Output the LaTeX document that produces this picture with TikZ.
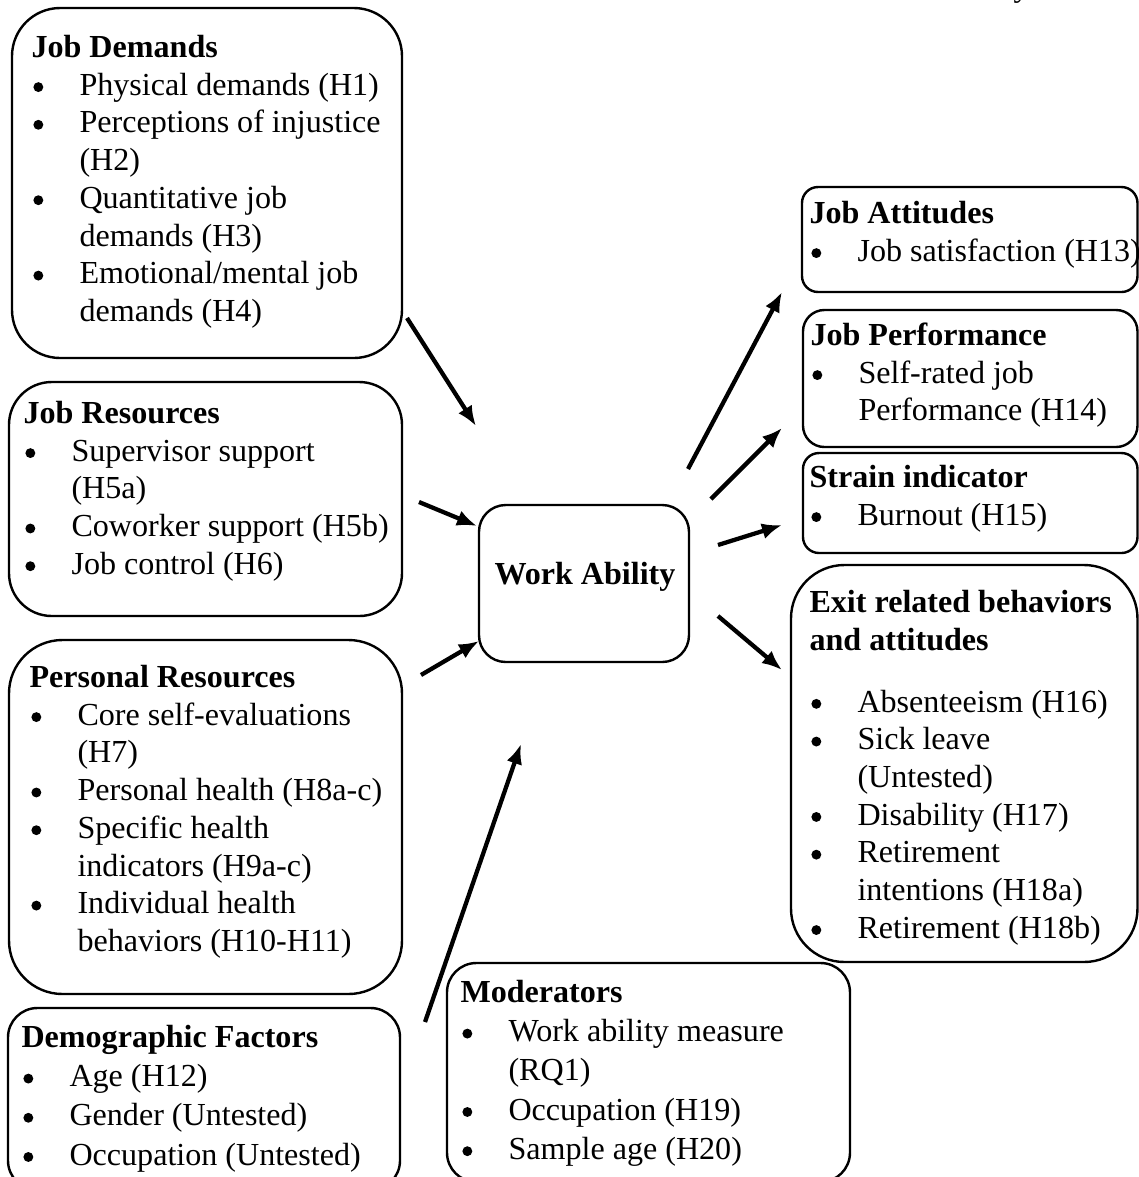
\documentclass[tikz,border=0pt]{standalone}
\usepackage{fontspec}
\setmainfont{Liberation Serif}
\usetikzlibrary{arrows.meta}

\newcommand{\hd}[1]{\rule{0pt}{9pt}\textbf{#1}}
\newcommand{\itm}{\makebox[17.95pt][l]{\hspace{0.7pt}\tikz[baseline=-3.05pt]\fill (0,0) circle (1.85pt);}}
\newcommand{\cont}{\hspace*{17.95pt}}

\begin{document}
\begin{tikzpicture}[x=0.374pt,y=-0.374pt,
  box/.style={draw,line width=0.9pt,rounded corners=#1},
  txt/.style={anchor=north west,yshift=9pt,align=left,inner sep=0pt,font=\fontsize{12}{14.1}\selectfont},
  arr/.style={line width=1.6pt,-{Latex[length=7.5pt,width=6pt]}}]
\useasboundingbox (0,0) rectangle (1139,1177);

% boxes
\draw[box=18pt] (12,8) rectangle (402,358);
\draw[box=16pt] (9,382) rectangle (402,616);
\draw[box=20pt] (9,640) rectangle (402,994);
\draw[box=11pt] (8,1008) rectangle (400,1190);
\draw[box=11pt] (447,963) rectangle (850,1182);
\draw[box=10pt] (479,505) rectangle (689,662);
\draw[box=6pt] (802,187) rectangle (1137.5,292);
\draw[box=8pt] (803,310) rectangle (1137.5,447);
\draw[box=6pt] (803,453) rectangle (1137.5,553);
\draw[box=20pt] (791,565) rectangle (1137.5,962);

\node[anchor=base west,inner sep=0pt,font=\fontsize{12}{14.1}\selectfont] (hdr) at (1013,-4) {y};

\node[txt] (jd) at (31,57) {\hd{Job Demands}\\
\itm Physical demands (H1)\\
\itm Perceptions of injustice\\
\cont (H2)\\
\itm Quantitative job\\
\cont demands (H3)\\
\itm Emotional/mental job\\
\cont demands (H4)};

\node[txt] (jr) at (23,423) {\hd{Job Resources}\\
\itm Supervisor support\\
\cont (H5a)\\
\itm Coworker support (H5b)\\
\itm Job control (H6)};

\node[txt] (pr) at (29,687) {\hd{Personal Resources}\\
\itm Core self-evaluations\\
\cont (H7)\\
\itm Personal health (H8a-c)\\
\itm Specific health\\
\cont indicators (H9a-c)\\
\itm Individual health\\
\cont behaviors (H10-H11)};

\node[txt,font=\fontsize{12}{14.66}\selectfont] (df) at (21,1047) {\hd{Demographic Factors}\\
\itm Age (H12)\\
\itm Gender (Untested)\\
\itm Occupation (Untested)};

\node[txt,font=\fontsize{12}{14.66}\selectfont] (mod) at (460,1002) {\hd{Moderators}\\
\itm Work ability measure\\
\cont (RQ1)\\
\itm Occupation (H19)\\
\itm Sample age (H20)};

\node[anchor=base,inner sep=0pt,font=\fontsize{12}{14.1}\selectfont\bfseries] (wa) at (585,584) {Work Ability};

\node[txt] (ja) at (809,223) {\hd{Job Attitudes}\\
\itm Job satisfaction (H13)};

\node[txt] (jp) at (810,345) {\hd{Job Performance}\\
\itm Self-rated job\\
\cont Performance (H14)};

\node[txt] (si) at (809,487) {\hd{Strain indicator}\\
\itm Burnout (H15)};

\node[txt] (ex) at (809,612) {\hd{Exit related behaviors}\\
\textbf{and attitudes}\\[9pt]
\itm Absenteeism (H16)\\
\itm Sick leave\\
\cont (Untested)\\
\itm Disability (H17)\\
\itm Retirement\\
\cont intentions (H18a)\\
\itm Retirement (H18b)};

% arrow ends
\coordinate (jd-a) at (407,318);
\coordinate (jd-b) at (476,426);
\coordinate (jr-a) at (419,502);
\coordinate (jr-b) at (477,526);
\coordinate (pr-a) at (421,675);
\coordinate (pr-b) at (479,641);
\coordinate (df-a) at (425,1022);
\coordinate (df-b) at (521,744);
\coordinate (ja-a) at (688,469);
\coordinate (ja-b) at (782,292);
\coordinate (jp-a) at (711,499);
\coordinate (jp-b) at (782,428);
\coordinate (si-a) at (718,545);
\coordinate (si-b) at (782,525);
\coordinate (ex-a) at (718,616);
\coordinate (ex-b) at (782,670);

\draw[arr] (jd-a) -- (jd-b);
\draw[arr] (jr-a) -- (jr-b);
\draw[arr] (pr-a) -- (pr-b);
\draw[arr] (df-a) -- (df-b);
\draw[arr] (ja-a) -- (ja-b);
\draw[arr] (jp-a) -- (jp-b);
\draw[arr] (si-a) -- (si-b);
\draw[arr] (ex-a) -- (ex-b);

\end{tikzpicture}
\end{document}
